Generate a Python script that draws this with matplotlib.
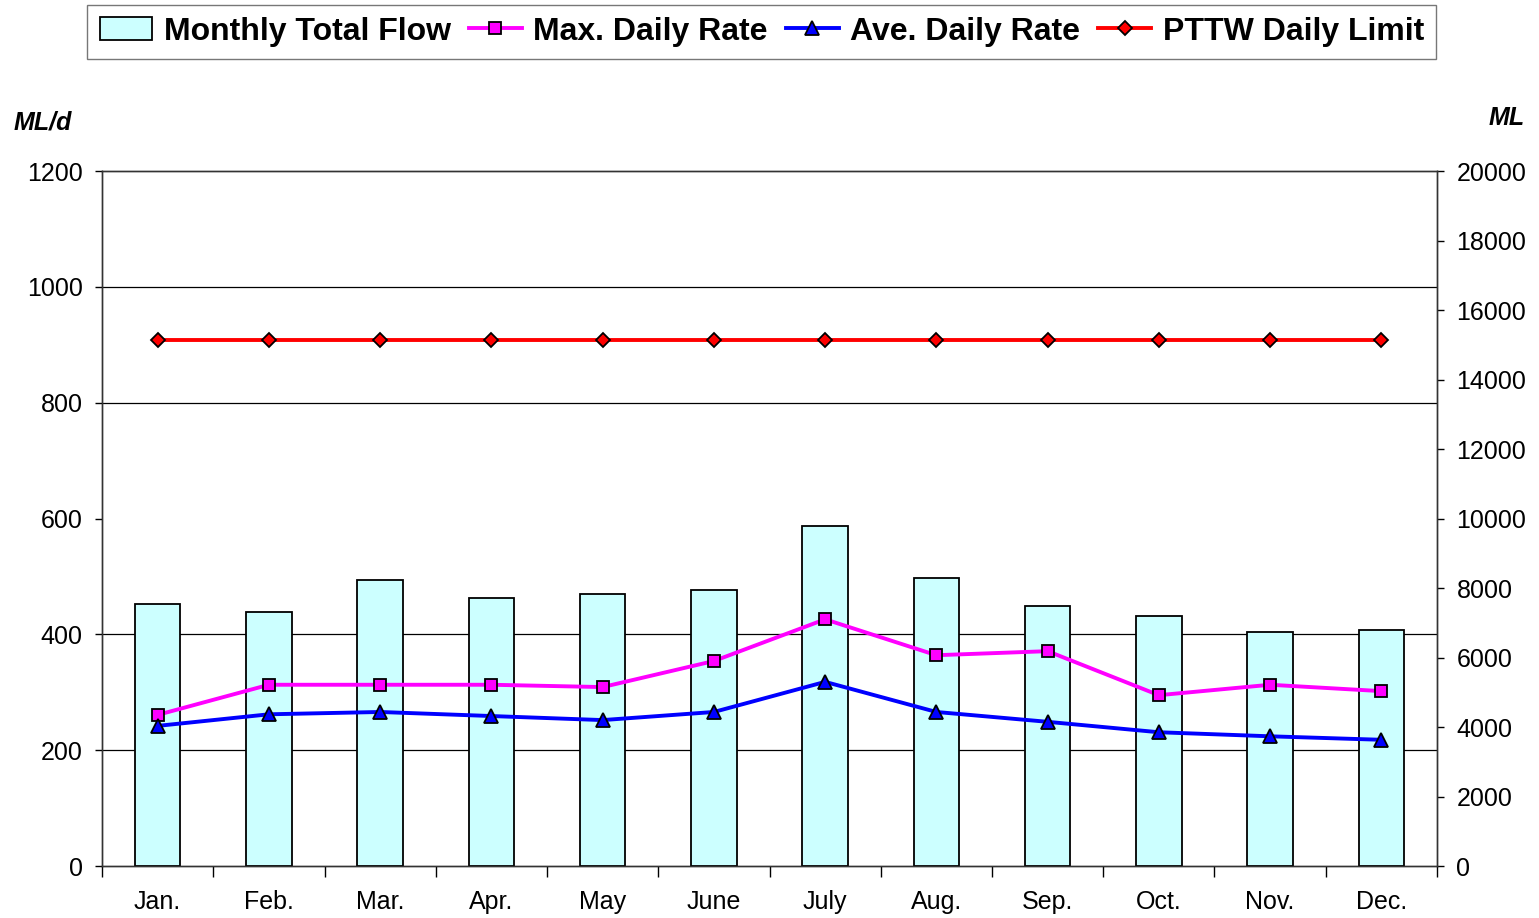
import numpy as np
import matplotlib
matplotlib.use("Agg")
import matplotlib.pyplot as plt
from matplotlib.ticker import FixedLocator, MultipleLocator

plt.rcParams['font.family'] = ['Liberation Sans', 'DejaVu Sans']

months = ['Jan.', 'Feb.', 'Mar.', 'Apr.', 'May', 'June', 'July', 'Aug.', 'Sep.', 'Oct.', 'Nov.', 'Dec.']
monthly_total = [7540, 7310, 8230, 7710, 7830, 7940, 9785, 8290, 7480, 7195, 6735, 6790]
max_daily = [261, 313, 313, 313, 309, 354, 426, 364, 371, 295, 313, 302]
ave_daily = [242, 262, 266, 259, 252, 266, 318, 266, 249, 231, 224, 218]
pttw_limit = [909] * 12

x = np.arange(len(months))

fig = plt.figure(figsize=(15.39, 9.18), dpi=100)
ax = fig.add_axes([0.0663, 0.0566, 0.8674, 0.7571])
ax2 = ax.twinx()

# bars behind, lines on top
ax.set_zorder(2)
ax.patch.set_visible(False)
ax2.set_zorder(1)

bars = ax2.bar(x, monthly_total, width=0.41, color='#CCFFFF', edgecolor='black',
               linewidth=1.3, label='Monthly Total Flow', zorder=3)
ax2.set_ylim(0, 20000)
ax2.yaxis.set_major_locator(MultipleLocator(2000))
# gridlines follow left-axis ticks but sit behind the bars
ax2.yaxis.set_minor_locator(FixedLocator([v * 20000 / 1200 for v in range(200, 1201, 200)]))
ax2.grid(which='minor', axis='y', color='black', linewidth=0.9, zorder=0)
ax2.tick_params(axis='y', which='minor', length=0)
ax2.tick_params(axis='y', which='major', labelsize=18, length=5, width=1, pad=9)

l1, = ax.plot(x, max_daily, color='#FF00FF', lw=2.8, marker='s', ms=9,
              mfc='#FF00FF', mec='black', mew=1.3, label='Max. Daily Rate')
l2, = ax.plot(x, ave_daily, color='#0000FF', lw=2.8, marker='^', ms=10,
              mfc='#0000FF', mec='black', mew=1.3, label='Ave. Daily Rate')
l3, = ax.plot(x, pttw_limit, color='#FF0000', lw=2.8, marker='D', ms=7,
              mfc='#FF0000', mec='black', mew=1.3, label='PTTW Daily Limit')

ax.set_ylim(0, 1200)
ax.yaxis.set_major_locator(MultipleLocator(200))
ax.set_xlim(-0.5, 11.5)
ax.set_xticks(x)
ax.set_xticklabels(months)
ax.xaxis.set_minor_locator(FixedLocator(np.arange(-0.5, 12, 1)))
ax.tick_params(axis='x', which='major', length=0, labelsize=18, pad=17)
ax.tick_params(axis='x', which='minor', length=8, width=1)
ax.tick_params(axis='y', labelsize=18, length=5, width=1, pad=9)
ax2.tick_params(axis='x', which='both', length=0)

for a in (ax, ax2):
    for s in a.spines.values():
        s.set_linewidth(1)
        s.set_color('#333333')

fig.text(0.009, 0.867, 'ML/d', fontsize=18, fontweight='bold', style='italic', va='center')
fig.text(0.991, 0.871, 'ML', fontsize=18, fontweight='bold', style='italic', ha='right', va='center')

leg = fig.legend([bars, l1, l2, l3],
                 ['Monthly Total Flow', 'Max. Daily Rate', 'Ave. Daily Rate', 'PTTW Daily Limit'],
                 loc='center', bbox_to_anchor=(0.495, 0.9655), ncol=4,
                 prop={'weight': 'bold', 'size': 23}, frameon=True, fancybox=False,
                 edgecolor='#555555', handlelength=1.65, handletextpad=0.37,
                 columnspacing=0.56, borderpad=0.38)
leg.get_frame().set_linewidth(1)

fig.savefig('out.png', dpi=100)
